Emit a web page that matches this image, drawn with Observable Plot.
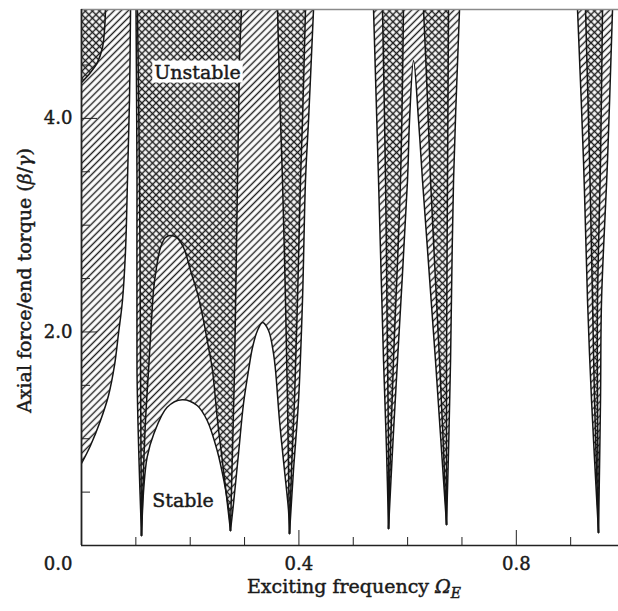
<!DOCTYPE html>
<html><head><meta charset="utf-8">
<script src="https://cdn.jsdelivr.net/npm/d3@7"></script>
<script src="https://cdn.jsdelivr.net/npm/@observablehq/plot@0.6"></script>
<style>
body{margin:0;background:#fff;} svg{display:block}
svg text{stroke:#1a1a1a;stroke-width:0.45px;paint-order:stroke;}
</style>
</head><body>
<script>
// Axis extents and ticks
const xMax = 0.988;
const yTop = 5.02;
const xMinorTicks = [0.1, 0.2, 0.3, 0.5, 0.6, 0.7, 0.9];
const xMajorTicks = [0.4, 0.8];
const yMinorTicks = [0.5, 1.0, 1.5, 2.5, 3.0, 3.5, 4.5];
const yMajorTicks = [2.0, 4.0];

// Boundary curves [Omega_E, beta/gamma]
const h1Edge = [[0,0.768],[0.0166,0.937],[0.035,1.171],[0.0497,1.405],[0.0607,1.686],[0.0681,1.986],[0.0754,2.295],[0.081,2.763],[0.0846,3.419],[0.0883,4.168],[0.0902,5.02]];
const c0Edge = [[0,4.336],[0.0166,4.43],[0.0294,4.524],[0.0386,4.664],[0.0423,4.823],[0.0442,5.02]];
const t1Left = [[0.1104,0.094],[0.1058,0.796],[0.1021,1.639],[0.1021,3.419],[0.1003,5.02]];
const t1XLeft = [[0.1104,0.094],[0.1095,0.796],[0.1086,1.639],[0.1067,3.419],[0.103,5.02]];
const upperDome = [[0.1104,0.094],[0.1141,0.702],[0.1178,1.171],[0.1233,1.639],[0.1288,2.107],[0.1325,2.388],[0.138,2.604],[0.1454,2.791],[0.1546,2.885],[0.1638,2.903],[0.1748,2.885],[0.1877,2.791],[0.2006,2.576],[0.2134,2.36],[0.2245,2.107],[0.2337,1.854],[0.241,1.639],[0.2502,1.171],[0.2613,0.702],[0.2741,0.14]];
const stableDome = [[0.1104,0.094],[0.1147,0.546],[0.1208,0.827],[0.1331,1.046],[0.1576,1.295],[0.1852,1.365],[0.2128,1.311],[0.2312,1.171],[0.2496,0.89],[0.2619,0.609],[0.271,0.328],[0.2741,0.14]];
const t2XRight = [[0.2741,0.14],[0.2778,0.89],[0.2815,1.639],[0.287,3.419],[0.2907,4.542],[0.2944,5.02]];
const dome23 = [[0.2741,0.14],[0.2797,0.393],[0.2889,0.862],[0.2981,1.33],[0.3073,1.639],[0.3146,1.854],[0.3238,2.014],[0.333,2.089],[0.3441,2.014],[0.3533,1.798],[0.357,1.639],[0.3643,1.171],[0.3735,0.702],[0.3809,0.328],[0.3827,0.112]];
const t3XLeft = [[0.3827,0.112],[0.3809,0.702],[0.379,1.358],[0.3753,2.295],[0.3698,3.419],[0.3661,3.981],[0.3606,5.02]];
const t3XRight = [[0.3827,0.112],[0.3864,0.702],[0.3919,1.358],[0.3974,2.295],[0.4029,3.419],[0.4066,3.981],[0.4121,5.02]];
const t3Right = [[0.3827,0.112],[0.39,0.702],[0.3993,1.358],[0.4066,2.295],[0.4121,3.419],[0.4177,3.981],[0.4269,5.02]];
const t4Left = [[0.5649,0.159],[0.5612,0.89],[0.5557,1.733],[0.5465,3.419],[0.5373,5.02]];
const t4XLeft = [[0.5649,0.159],[0.5649,0.89],[0.563,1.733],[0.5594,3.419],[0.5538,5.02]];
const t4XRight = [[0.5649,0.159],[0.5685,0.89],[0.574,1.733],[0.5869,3.419],[0.5924,5.02]];
const dome45 = [[0.5649,0.159],[0.5722,0.89],[0.5814,1.733],[0.5998,3.419],[0.6035,3.981],[0.6109,4.542],[0.6201,3.981],[0.6274,3.419],[0.6513,1.733],[0.6624,0.89],[0.6716,0.197]];
const t5XLeft = [[0.6716,0.197],[0.6661,0.89],[0.6587,1.733],[0.6422,3.419],[0.6366,4.168],[0.6293,5.02]];
const t5XRight = [[0.6716,0.197],[0.6716,0.89],[0.6716,1.733],[0.6734,3.419],[0.6753,5.02]];
const t5Right = [[0.6716,0.197],[0.6753,0.89],[0.679,1.733],[0.6845,3.419],[0.6955,5.02]];
const t6Left = [[0.9512,0.122],[0.9384,1.358],[0.931,2.295],[0.9236,3.606],[0.9126,5.02]];
const t6XLeft = [[0.9512,0.122],[0.9439,1.358],[0.9402,2.295],[0.9347,3.606],[0.9273,5.02]];
const t6XRight = [[0.9512,0.122],[0.9494,1.358],[0.9494,2.295],[0.9549,3.606],[0.9586,5.02]];
const t6Right = [[0.9512,0.122],[0.9549,1.358],[0.9568,2.295],[0.9678,3.606],[0.977,5.02]];

// Region labels
const regionNames = ["Unstable", "Stable"];
const regionX = [0.2134, 0.1868];
const regionY = [4.43, 0.417];

const rev = a => a.slice().reverse();
// repeat a segment's end points so that joins stay sharp under the smoothing curve
const seg = s => [s[0], ...s, s[s.length - 1]];
const corner = [[0, yTop], [0, yTop]];
const hatchPolys = [
  [...seg(h1Edge), ...corner],
  [...seg(t1Left), ...seg(rev(t3Right)), ...seg(rev(dome23)), ...seg(rev(stableDome))],
  [...seg(t4Left), ...seg(rev(t5Right)), ...seg(rev(dome45))],
  [...seg(t6Left), ...seg(rev(t6Right))]
];
const crossPolys = [
  [...seg(c0Edge), ...corner],
  [...seg(t1XLeft), ...seg(rev(t2XRight)), ...seg(rev(upperDome))],
  [...seg(t3XLeft), ...seg(rev(t3XRight))],
  [...seg(t4XLeft), ...seg(rev(t4XRight))],
  [...seg(t5XLeft), ...seg(rev(t5XRight))],
  [...seg(t6XLeft), ...seg(rev(t6XRight))]
];
const curves = [h1Edge, c0Edge, t1Left, t1XLeft, upperDome, stableDome, t2XRight, dome23, t3XLeft, t3XRight, t3Right,
  t4Left, t4XLeft, t4XRight, dome45, t5XLeft, t5XRight, t5Right, t6Left, t6XLeft, t6XRight, t6Right];
const toRows = polys => polys.flatMap((p, i) => p.map(([x, y]) => ({id: i, x, y})));

const labels = regionNames.map((t, i) => ({t, x: regionX[i], y: regionY[i]}));
const xTitle = "Exciting frequency";
const yTitle = "Axial force/end torque";

const plot = Plot.plot({
  width: 618, height: 611,
  marginLeft: 81, marginRight: 0, marginTop: 9, marginBottom: 66,
  x: {domain: [0, xMax]},
  y: {domain: [0, yTop]},
  style: {fontFamily: "DejaVu Serif", fontSize: "18px", color: "#1a1a1a", background: "white"},
  marks: [
    Plot.line(toRows(hatchPolys), {x: "x", y: "y", z: "id", curve: "catmull-rom", fill: "url(#hatchPat)", stroke: "none", clip: true}),
    Plot.line(toRows(crossPolys), {x: "x", y: "y", z: "id", curve: "catmull-rom", fill: "url(#crossPat)", stroke: "none", clip: true}),
    Plot.line(toRows(curves), {x: "x", y: "y", z: "id", curve: "catmull-rom", stroke: "#151515", strokeWidth: 1.5, clip: true}),
    Plot.text(labels, {x: "x", y: "y", text: "t", fontSize: 19, fill: "#1a1a1a"}),
    Plot.ruleY([yTop], {stroke: "#8a8a8a", strokeWidth: 1.5}),
    Plot.ruleX([0], {stroke: "#222", strokeWidth: 1.8}),
    Plot.ruleY([0], {stroke: "#222", strokeWidth: 1.5}),
    Plot.axisX({ticks: xMinorTicks, tickSize: -8, tickFormat: () => "", label: null, stroke: "#222"}),
    Plot.axisX({ticks: xMajorTicks, tickSize: -15, tickFormat: () => "", label: null, stroke: "#222"}),
    Plot.axisX({ticks: xMajorTicks, tickSize: 0, tickPadding: 12, tickFormat: d3.format(".1f"), label: null}),
    Plot.axisY({ticks: yMinorTicks, tickSize: -9, tickFormat: () => "", label: null, stroke: "#222"}),
    Plot.axisY({ticks: yMajorTicks, tickSize: -16, tickFormat: () => "", label: null, stroke: "#222"}),
    Plot.axisY({ticks: yMajorTicks, tickSize: 0, tickPadding: 9, tickFormat: d3.format(".1f"), label: null}),
    Plot.text(["0.0"], {x: 0, y: 0, text: d => d, textAnchor: "end", dx: -9, dy: 19}),
    Plot.text([xTitle], {frameAnchor: "bottom", text: d => d, lineAnchor: "middle", textAnchor: "middle", dy: 41, dx: 4, fontSize: 19}),
    Plot.text([yTitle], {frameAnchor: "left", text: d => d, lineAnchor: "middle", textAnchor: "middle", rotate: -90, dx: -57, dy: 3, fontSize: 19})
  ]
});
document.body.appendChild(plot);

const svg = d3.select(plot);
svg.insert("defs", ":first-child").html(`
  <pattern id="hatchPat" patternUnits="userSpaceOnUse" width="5" height="5" patternTransform="rotate(45)">
    <rect width="5" height="5" fill="white"/>
    <line x1="2.5" y1="-1" x2="2.5" y2="6" stroke="#1e1e1e" stroke-width="1.4"/>
  </pattern>
  <pattern id="crossPat" patternUnits="userSpaceOnUse" width="5" height="5" patternTransform="rotate(45)">
    <rect width="5" height="5" fill="white"/>
    <line x1="2.5" y1="-1" x2="2.5" y2="6" stroke="#1e1e1e" stroke-width="1.45"/>
    <line x1="-1" y1="2.5" x2="6" y2="2.5" stroke="#1e1e1e" stroke-width="1.45"/>
  </pattern>`);

const texts = svg.selectAll("text");
texts.filter(function () { return regionNames.includes(this.textContent); }).each(function () {
  const b = this.getBBox();
  d3.select(this.parentNode).insert("rect", () => this)
    .attr("transform", this.getAttribute("transform"))
    .attr("x", b.x - 2).attr("y", b.y).attr("width", b.width + 4).attr("height", b.height)
    .attr("fill", "white");
});
texts.filter(function () { return this.textContent === xTitle; })
  .html(xTitle + ' <tspan font-style="italic">Ω</tspan><tspan font-style="italic" font-size="14" dy="5">E</tspan>');
texts.filter(function () { return this.textContent === yTitle; })
  .html(yTitle + ' (<tspan font-style="italic">β</tspan>/<tspan font-style="italic">γ</tspan>)');
</script>
</body></html>
